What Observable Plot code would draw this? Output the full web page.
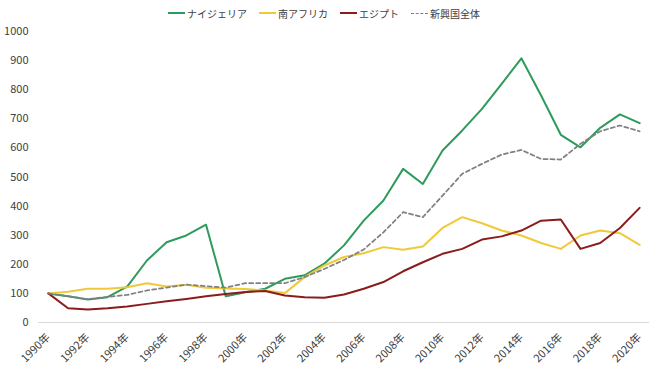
<!DOCTYPE html>
<html>
<head>
<meta charset="utf-8">
<script src="https://cdn.jsdelivr.net/npm/d3@7"></script>
<script src="https://cdn.jsdelivr.net/npm/@observablehq/plot@0.6"></script>
<style>
  body { margin: 0; background: #fff; font-family: "Noto Sans CJK JP", "Noto Sans", sans-serif; }
  #legend { height: 24px; display: flex; justify-content: center; align-items: center; gap: 12px; font-size: 10px; color: #404040; box-sizing: border-box; padding-top: 2px; padding-right: 12px; }
  .item { display: flex; align-items: center; gap: 2px; }
  .sw { width: 17px; height: 0; border-top: 2px solid; }
</style>
</head>
<body>
<div id="legend"></div>
<div id="chart"></div>
<script>
const years = d3.range(1990, 2021);
const seriesNames = ["ナイジェリア", "南アフリカ", "エジプト", "新興国全体"];
const nigeria = [100, 90, 79, 87, 123, 213, 276, 299, 336, 90, 104, 116, 150, 162, 202, 265, 350, 419, 528, 476, 591, 660, 734, 820, 908, 780, 645, 602, 669, 715, 685];
const southAfrica = [100, 106, 116, 116, 121, 135, 124, 130, 119, 117, 115, 110, 101, 156, 196, 225, 238, 259, 250, 261, 325, 362, 341, 316, 299, 273, 253, 299, 316, 307, 267];
const egypt = [100, 49, 45, 49, 55, 64, 73, 81, 90, 98, 105, 108, 93, 87, 85, 96, 116, 139, 176, 207, 236, 253, 285, 296, 316, 350, 354, 253, 273, 325, 394];
const emerging = [100, 90, 80, 88, 95, 110, 120, 130, 125, 120, 135, 135, 135, 156, 184, 215, 251, 310, 379, 362, 436, 511, 545, 577, 593, 562, 560, 614, 657, 677, 657];
const colors = ["#2e9a5c", "#f0c93a", "#8b1c1c", "#808080"];
const yTicks = [0, 100, 200, 300, 400, 500, 600, 700, 800, 900, 1000];
const xTicks = d3.range(1990, 2021, 2);

const all = [nigeria, southAfrica, egypt, emerging];
const data = [];
all.forEach((arr, i) => arr.forEach((v, j) => data.push({year: years[j], value: v, series: seriesNames[i]})));

// legend
const leg = document.getElementById("legend");
seriesNames.forEach((n, i) => {
  const it = document.createElement("div"); it.className = "item";
  const sw = document.createElement("div"); sw.className = "sw";
  sw.style.borderTopColor = colors[i];
  if (i === 3) { sw.style.borderTopStyle = "dashed"; sw.style.borderTopWidth = "1.5px"; }
  const t = document.createElement("span"); t.textContent = n;
  it.appendChild(sw); it.appendChild(t); leg.appendChild(it);
});

const chart = Plot.plot({
  width: 660,
  height: 347,
  marginLeft: 38,
  marginRight: 11,
  marginTop: 7,
  marginBottom: 49,
  style: { fontFamily: "'Noto Sans CJK JP', 'Noto Sans', sans-serif", fontSize: "11px", color: "#404040", background: "#fff", overflow: "visible" },
  x: { domain: [1989.5, 2020.5], ticks: xTicks, tickFormat: d => d + "年", tickRotate: -45, tickSize: 0, tickPadding: 13, label: null },
  y: { domain: [0, 1000], ticks: yTicks, tickFormat: d => String(d), tickSize: 0, tickPadding: 10, label: null },
  color: { domain: seriesNames, range: colors },
  marks: [
    Plot.ruleY([0], { stroke: "#d9d9d9", strokeWidth: 1 }),
    Plot.line(data.filter(d => d.series !== "新興国全体"), { x: "year", y: "value", z: "series", stroke: "series", strokeWidth: 2 }),
    Plot.line(data.filter(d => d.series === "新興国全体"), { x: "year", y: "value", stroke: "series", strokeWidth: 1.75, strokeDasharray: "4,3" })
  ]
});
document.getElementById("chart").appendChild(chart);
</script>
</body>
</html>
